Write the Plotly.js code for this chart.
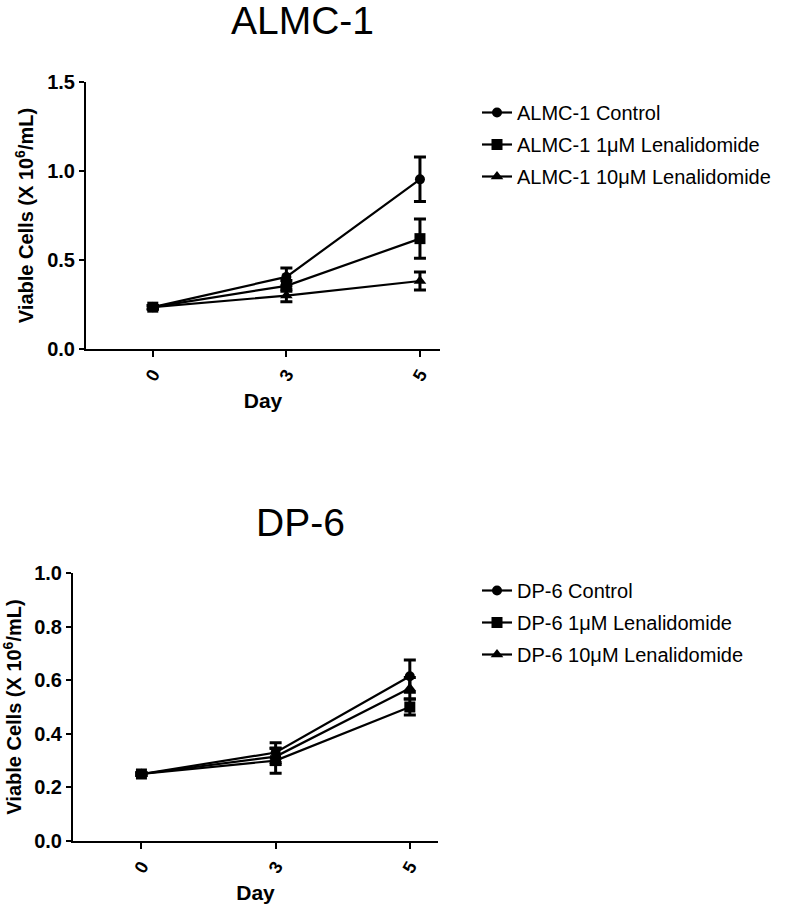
<!DOCTYPE html>
<html>
<head>
<meta charset="utf-8">
<script src="https://cdn.plot.ly/plotly-3.0.1.min.js"></script>
<style>html,body{margin:0;padding:0;background:#fff;}#chart{width:800px;height:906px;}</style>
</head>
<body>
<div id="chart"></div>
<script>
// ---- data ----
const days = ["0", "3", "5"];

const almcNames = ["ALMC-1 Control", "ALMC-1 1\u03bcM Lenalidomide", "ALMC-1 10\u03bcM Lenalidomide"];
const almcControl = [0.235, 0.405, 0.953];
const almcControlErr = [0.010, 0.050, 0.125];
const almc1uM = [0.235, 0.355, 0.620];
const almc1uMErr = [0.010, 0.030, 0.110];
const almc10uM = [0.235, 0.300, 0.382];
const almc10uMErr = [0.010, 0.035, 0.050];

const dpNames = ["DP-6 Control", "DP-6 1\u03bcM Lenalidomide", "DP-6 10\u03bcM Lenalidomide"];
const dpControl = [0.250, 0.330, 0.615];
const dpControlErr = [0.005, 0.037, 0.060];
const dp1uM = [0.250, 0.300, 0.500];
const dp1uMErr = [0.005, 0.047, 0.030];
const dp10uM = [0.250, 0.315, 0.570];
const dp10uMErr = [0.005, 0.030, 0.040];

const topTicks = [0, 0.5, 1.0, 1.5];
const botTicks = [0, 0.2, 0.4, 0.6, 0.8, 1.0];

// ---- styling ----
const FONT = "Liberation Sans, Arial, sans-serif";
const symbols = ["circle", "square", "triangle-up"];
const msizes = [10, 11, 11];

function mk(name, y, err, i, xa, ya, leg) {
  return {
    type: "scatter", mode: "lines+markers", name: name,
    x: days, y: y, xaxis: xa, yaxis: ya, legend: leg,
    legendgroup: leg + i,
    line: {color: "#000", width: 2.2},
    marker: {symbol: symbols[i], size: msizes[i], color: "#000"},
    error_y: {type: "data", array: err, visible: true, color: "#000", thickness: 3, width: 6}
  };
}

const traces = [
  mk(almcNames[0], almcControl, almcControlErr, 0, "x", "y", "legend"),
  mk(almcNames[1], almc1uM, almc1uMErr, 1, "x", "y", "legend"),
  mk(almcNames[2], almc10uM, almc10uMErr, 2, "x", "y", "legend"),
  mk(dpNames[0], dpControl, dpControlErr, 0, "x2", "y2", "legend2"),
  mk(dpNames[1], dp1uM, dp1uMErr, 1, "x2", "y2", "legend2"),
  mk(dpNames[2], dp10uM, dp10uMErr, 2, "x2", "y2", "legend2")
];

const W = 800, H = 906;
const px = v => v / W, py = v => 1 - v / H;

function xAxis(domain, range, anchor) {
  return {
    type: "category", domain: domain, range: range, anchor: anchor,
    showline: true, linecolor: "#000", linewidth: 2, mirror: false,
    ticks: "outside", ticklen: 6, tickwidth: 2, tickcolor: "#000",
    tickangle: -60, showgrid: false, zeroline: false,
    tickfont: {family: FONT, size: 18, color: "#000", weight: "bold"},
    title: {text: "<b>Day</b>", font: {family: FONT, size: 21, color: "#000"}, standoff: 10}
  };
}
function yAxis(domain, range, ticks, anchor) {
  return {
    domain: domain, range: range, anchor: anchor,
    tickvals: ticks, tickformat: ".1f",
    showline: true, linecolor: "#000", linewidth: 2,
    ticks: "outside", ticklen: 5, tickwidth: 2, tickcolor: "#000",
    showgrid: false, zeroline: false,
    tickfont: {family: FONT, size: 20, color: "#000", weight: "bold"},
    title: {text: "<b>Viable Cells (X 10<sup>6</sup>/mL)</b>", font: {family: FONT, size: 20, color: "#000"}, standoff: 8}
  };
}

const layout = {
  width: W, height: H,
  margin: {l: 0, r: 0, t: 0, b: 0},
  paper_bgcolor: "#fff", plot_bgcolor: "#fff",
  showlegend: true,
  font: {family: FONT, color: "#000"},
  xaxis: xAxis([px(86), px(440)], [-0.5, 2.15], "y"),
  yaxis: yAxis([py(349), py(82)], [0, 1.5], topTicks, "x"),
  xaxis2: xAxis([px(73), px(438)], [-0.51, 2.21], "y2"),
  yaxis2: yAxis([py(841), py(573)], [0, 1.0], botTicks, "x2"),
  legend: {x: px(477), y: py(93), xanchor: "left", yanchor: "top",
    font: {family: FONT, size: 20, color: "#000"}, tracegroupgap: 3, bgcolor: "rgba(0,0,0,0)"},
  legend2: {x: px(477), y: py(571), xanchor: "left", yanchor: "top",
    font: {family: FONT, size: 20, color: "#000"}, tracegroupgap: 3, bgcolor: "rgba(0,0,0,0)"},
  annotations: [
    {text: "ALMC-1", x: px(302), y: py(20), xref: "paper", yref: "paper", showarrow: false,
      xanchor: "center", yanchor: "middle", font: {family: FONT, size: 39, color: "#000"}},
    {text: "DP-6", x: px(300), y: py(522), xref: "paper", yref: "paper", showarrow: false,
      xanchor: "center", yanchor: "middle", font: {family: FONT, size: 39, color: "#000"}}
  ]
};

Plotly.newPlot("chart", traces, layout, {displayModeBar: false, staticPlot: true});
</script>
</body>
</html>
